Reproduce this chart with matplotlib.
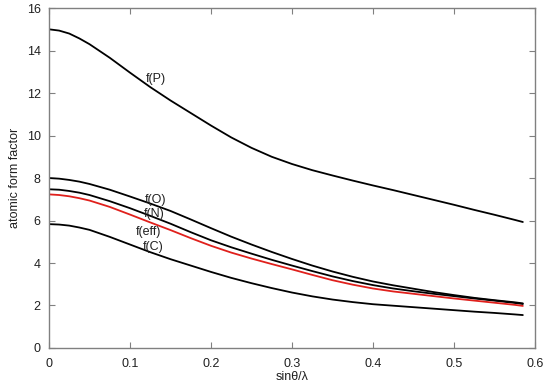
import matplotlib
matplotlib.use("Agg")
import matplotlib.pyplot as plt

plt.rcParams['font.family'] = ['Liberation Sans', 'DejaVu Sans']

x = [0.0, 0.0125, 0.025, 0.0375, 0.05, 0.075, 0.1, 0.125, 0.15, 0.175, 0.2, 0.225, 0.25, 0.275,
     0.3, 0.325, 0.35, 0.375, 0.4, 0.425, 0.45, 0.475, 0.5, 0.525, 0.55, 0.575, 0.585]

f_P = [15.0, 14.94, 14.8, 14.57, 14.3, 13.66, 12.96, 12.28, 11.65, 11.06, 10.47, 9.91, 9.42, 9.0,
       8.66, 8.37, 8.12, 7.88, 7.65, 7.43, 7.2, 6.97, 6.74, 6.5, 6.27, 6.03, 5.93]
f_O = [8.0, 7.97, 7.91, 7.83, 7.72, 7.45, 7.13, 6.8, 6.45, 6.05, 5.64, 5.24, 4.87, 4.52,
       4.19, 3.88, 3.6, 3.35, 3.13, 2.95, 2.79, 2.63, 2.49, 2.36, 2.25, 2.15, 2.1]
f_N = [7.47, 7.45, 7.39, 7.31, 7.2, 6.91, 6.58, 6.22, 5.85, 5.45, 5.07, 4.74, 4.44, 4.15,
       3.88, 3.62, 3.37, 3.15, 2.96, 2.8, 2.67, 2.55, 2.44, 2.33, 2.23, 2.12, 2.07]
f_eff = [7.23, 7.2, 7.14, 7.05, 6.94, 6.64, 6.28, 5.91, 5.55, 5.17, 4.81, 4.49, 4.21, 3.95,
         3.7, 3.44, 3.19, 2.98, 2.8, 2.66, 2.55, 2.44, 2.33, 2.23, 2.13, 2.03, 1.98]
f_C = [5.83, 5.81, 5.76, 5.67, 5.56, 5.23, 4.87, 4.51, 4.18, 3.88, 3.58, 3.3, 3.05, 2.82,
       2.61, 2.43, 2.28, 2.16, 2.06, 1.99, 1.92, 1.85, 1.78, 1.71, 1.65, 1.58, 1.55]

labels = ["f(P)", "f(O)", "f(N)", "f(eff)", "f(C)"]
label_x = [0.132, 0.131, 0.130, 0.123, 0.129]
label_y = [12.66, 6.96, 6.29, 5.47, 4.77]

fig = plt.figure(figsize=(5.5, 3.84), dpi=100)
ax = fig.add_axes([0.0891, 0.0938, 0.8836, 0.8852])

for ys, c in [(f_P, 'black'), (f_O, 'black'), (f_N, 'black'), (f_C, 'black'), (f_eff, '#e0201c')]:
    ax.plot(x, ys, color=c, lw=1.3, solid_joinstyle='round', solid_capstyle='round')

for t, lx, ly in zip(labels, label_x, label_y):
    ax.text(lx, ly, t, ha='center', va='center', fontsize=9, color='#202020')

ax.set_xlim(0, 0.6)
ax.set_ylim(0, 16)
ax.set_xticks([0, 0.1, 0.2, 0.3, 0.4, 0.5, 0.6])
ax.set_xticklabels(['0', '0.1', '0.2', '0.3', '0.4', '0.5', '0.6'])
ax.set_yticks(range(0, 17, 2))
ax.tick_params(direction='in', length=4, width=0.8, color='#808080',
               top=True, right=True, labelsize=9, labelcolor='#202020')
ax.tick_params(axis='x', pad=7)
ax.tick_params(axis='y', pad=6)
for s in ax.spines.values():
    s.set_color('#808080')
    s.set_linewidth(1.0)

ax.set_xlabel('sinθ/λ', fontsize=9, labelpad=1, color='#202020')
ax.set_ylabel('atomic form factor', fontsize=9, labelpad=4, color='#202020')

fig.savefig('out.png', dpi=100)
